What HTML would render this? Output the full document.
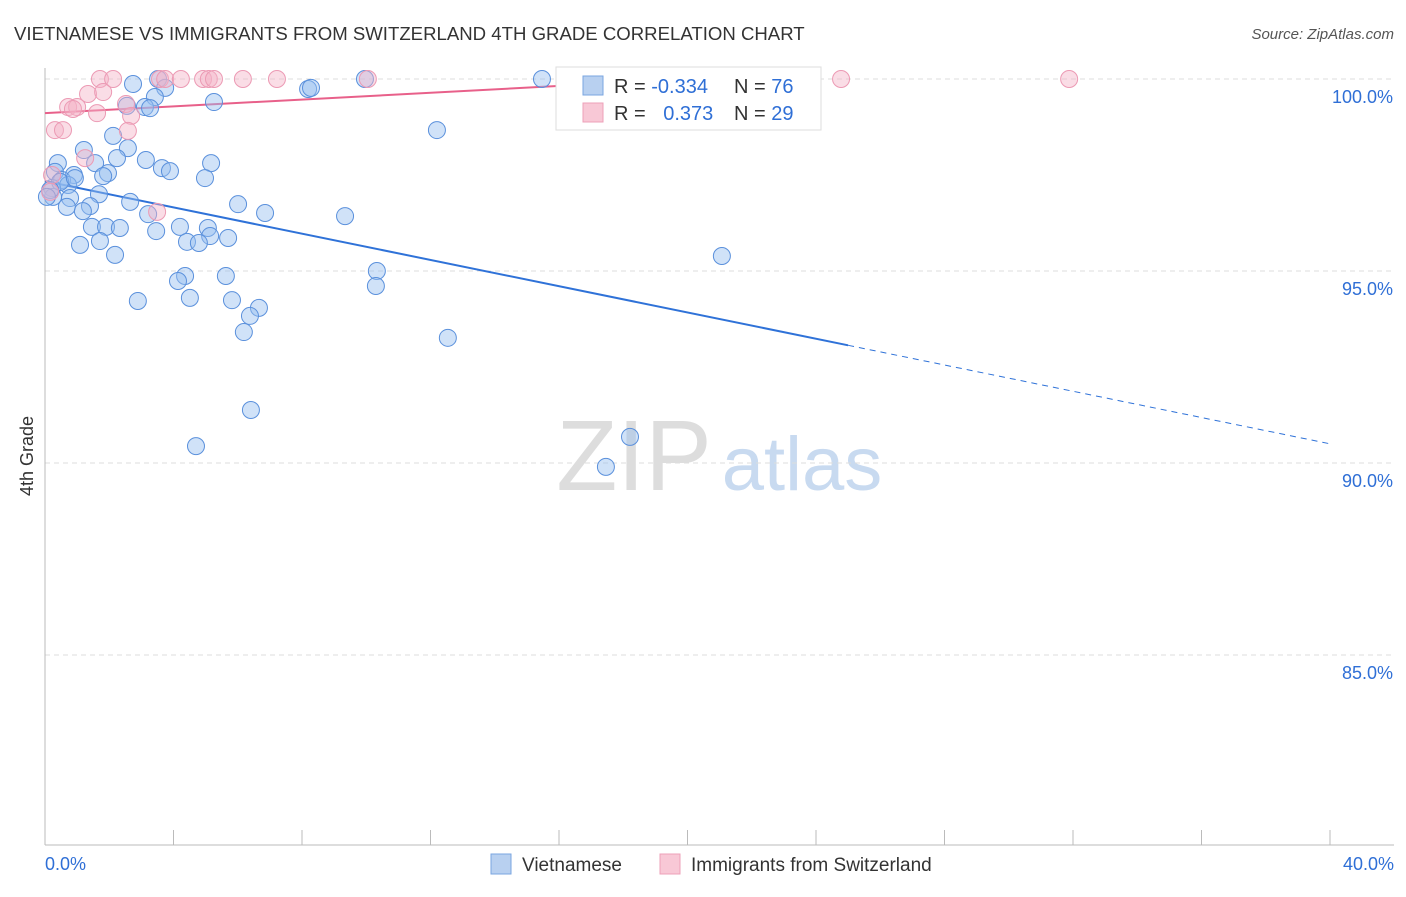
<!DOCTYPE html>
<html><head><meta charset="utf-8"><style>
body{margin:0;background:#fff;font-family:"Liberation Sans",sans-serif}
svg text{font-family:"Liberation Sans",sans-serif}
</style></head><body>
<svg id="chart" width="1406" height="892">
<text x="14" y="40" font-size="18.6" fill="#333">VIETNAMESE VS IMMIGRANTS FROM SWITZERLAND 4TH GRADE CORRELATION CHART</text>
<text x="1394" y="39" font-size="15" fill="#555" font-style="italic" text-anchor="end">Source: ZipAtlas.com</text>
<g>
<text x="634" y="490" font-size="100" fill="#ddd" font-family="Liberation Serif" text-anchor="middle">ZIP</text>
<text x="802" y="490" font-size="76" fill="#c8daf0" text-anchor="middle">atlas</text>
</g>
<g id="grid"></g>
<g id="axes"></g>
<g id="lines"></g>
<g id="pts"></g>
<text x="33" y="456" font-size="18" fill="#333" transform="rotate(-90 33 456)" text-anchor="middle">4th Grade</text>
<g>
<rect x="556" y="67" width="265" height="63" fill="#fff" stroke="#ddd"/>
<rect x="583" y="76" width="20" height="19" fill="#b8d0f0" stroke="#7aa6e0"/>
<rect x="583" y="103" width="20" height="19" fill="#f8c8d6" stroke="#eea0b8"/>
<text x="614" y="93" font-size="20" fill="#333">R = <tspan fill="#2f6fd6">-0.334</tspan></text>
<text x="734" y="93" font-size="20" fill="#333">N = <tspan fill="#2f6fd6">76</tspan></text>
<text x="614" y="120" font-size="20" fill="#333">R = <tspan fill="#2f6fd6" dx="12">0.373</tspan></text>
<text x="734" y="120" font-size="20" fill="#333">N = <tspan fill="#2f6fd6">29</tspan></text>
</g>
<g>
<rect x="491" y="854" width="20" height="20" fill="#b8d0f0" stroke="#7aa6e0"/>
<text x="522" y="871" font-size="19" fill="#333">Vietnamese</text>
<rect x="660" y="854" width="20" height="20" fill="#f8c8d6" stroke="#eea0b8"/>
<text x="691" y="871" font-size="19" fill="#333">Immigrants from Switzerland</text>
</g>
</svg>
<script>
const yTicks=[100,95,90,85];
const yTickLabels=["100.0%","95.0%","90.0%","85.0%"];
const xTickLabels=["0.0%","40.0%"];
const blueX=[3.52,9.96,15.47,2.74,3.74,8.19,8.28,3.42,5.26,2.55,3.11,3.27,12.2,2.12,2.58,1.21,2.24,3.14,0.4,1.56,5.17,3.64,3.89,1.96,1.81,0.9,4.98,0.31,0.53,0.72,0.22,0.47,1.68,0.78,0.25,2.65,1.4,0.68,6.01,1.18,6.85,9.34,3.21,1.46,1.9,2.33,4.2,5.07,3.46,5.14,5.7,1.71,4.42,4.79,1.09,2.18,21.07,10.33,5.63,4.36,4.14,10.3,2.89,4.51,5.82,6.66,6.38,6.19,12.54,6.41,18.21,4.7,17.46,0.16,0.06,0.93];
const blueY=[100,100,100,99.87,99.77,99.74,99.77,99.53,99.4,99.3,99.27,99.24,98.67,98.52,98.2,98.15,97.94,97.89,97.81,97.81,97.81,97.68,97.6,97.55,97.47,97.5,97.42,97.58,97.37,97.24,97.16,97.32,97.0,96.9,96.93,96.8,96.69,96.67,96.74,96.56,96.51,96.43,96.48,96.15,96.15,96.12,96.15,96.12,96.04,95.91,95.86,95.78,95.76,95.73,95.68,95.42,95.39,95.0,94.87,94.87,94.74,94.61,94.22,94.3,94.24,94.04,93.83,93.41,93.26,91.38,90.68,90.44,89.9,97.11,96.93,97.42];
const pinkX=[1.71,2.12,3.58,3.74,4.23,4.92,5.1,5.26,6.16,7.22,10.05,18.09,24.78,31.88,1.34,1.81,0.72,1.0,0.87,1.62,2.52,2.68,2.58,0.31,0.56,1.25,3.49,0.22,0.16];
const pinkY=[100,100,100,100,100,100,100,100,100,100,100,100,100,100,99.61,99.66,99.27,99.27,99.22,99.11,99.35,99.04,98.65,98.67,98.67,97.94,96.54,97.5,97.06];
const blueTrend=[97.34,-0.171];
const pinkTrend=[99.11,0.0443];
const NS="http://www.w3.org/2000/svg";
const X=v=>45+v*32.125, Y=v=>79+(100-v)*38.4;
function mk(tag,attrs,parent){const e=document.createElementNS(NS,tag);for(const k in attrs)e.setAttribute(k,attrs[k]);document.getElementById(parent).appendChild(e);return e;}
yTicks.forEach((t,i)=>{
 const l=mk('line',{x1:45,x2:1394,y1:Y(t),y2:Y(t),stroke:'#ddd','stroke-dasharray':'5,4'},'grid');
 
 
 const tx=mk('text',{x:1393,y:Y(t)+24,'font-size':18,fill:'#2f6fd6','text-anchor':'end'},'grid');
 tx.textContent=yTickLabels[i];
 
 
});
let a=mk('line',{x1:45,x2:45,y1:68,y2:845,stroke:'#bbb'},'axes');


a=mk('line',{x1:45,x2:1394,y1:845,y2:845,stroke:'#bbb'},'axes');


for(let i=0;i<=10;i++){const t=mk('line',{x1:X(i*4),x2:X(i*4),y1:830,y2:845,stroke:'#bbb'},'axes');
 
 }
[[0,'start',45],[40,'end',1394]].forEach((d,i)=>{const t=mk('text',{x:d[2],y:870,'font-size':18,fill:'#2f6fd6','text-anchor':d[1]},'axes');t.textContent=xTickLabels[i];
 
 });
blueX.forEach((x,i)=>{const c=mk('circle',{cx:X(x),cy:Y(blueY[i]),r:8.5,fill:'rgba(150,190,240,0.45)',stroke:'#5a90dc','stroke-width':1},'pts');
 
 });
pinkX.forEach((x,i)=>{const c=mk('circle',{cx:X(x),cy:Y(pinkY[i]),r:8.5,fill:'rgba(245,180,200,0.45)',stroke:'#ec9ab4','stroke-width':1},'pts');
 
 });
const bt=x=>blueTrend[0]+blueTrend[1]*x, pt=x=>pinkTrend[0]+pinkTrend[1]*x;
let l=mk('line',{x1:X(0),y1:Y(bt(0)),x2:X(25),y2:Y(bt(25)),stroke:'#2f72d8','stroke-width':2},'lines');


l=mk('line',{x1:X(25),y1:Y(bt(25)),x2:X(40),y2:Y(bt(40)),stroke:'#2f72d8','stroke-width':1,'stroke-dasharray':'6,5'},'lines');


l=mk('line',{x1:X(0),y1:Y(pt(0)),x2:X(18),y2:Y(pt(18)),stroke:'#e8608a','stroke-width':2},'lines');


</script>
</body></html>
